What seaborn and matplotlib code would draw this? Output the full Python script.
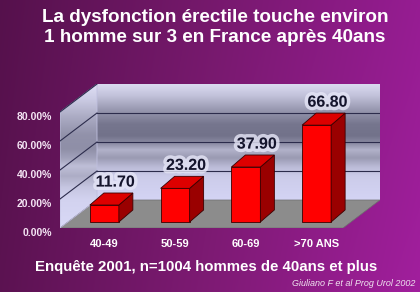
import numpy as np
import matplotlib
matplotlib.use("Agg")
import matplotlib.pyplot as plt
import seaborn as sns
from matplotlib.patches import Polygon
from matplotlib.colors import LinearSegmentedColormap, to_rgb
import matplotlib.patheffects as pe
from matplotlib.transforms import ScaledTranslation

# ---------------- data ----------------
categories = ["40-49", "50-59", "60-69", ">70 ANS"]
values = [11.70, 23.20, 37.90, 66.80]
tick_values = [0, 20, 40, 60, 80]
tick_labels = ["0.00%", "20.00%", "40.00%", "60.00%", "80.00%"]
title_lines = ["La dysfonction érectile touche environ",
               "1 homme sur 3 en France après 40ans"]
subtitle = "Enquête 2001, n=1004 hommes de 40ans et plus"
source = "Giuliano F et al Prog Urol 2002"

plt.rcParams['font.family'] = ['Liberation Sans', 'DejaVu Sans']

W, H = 420, 292
fig = plt.figure(figsize=(W / 100, H / 100), dpi=100)

# ---------------- background gradient ----------------
bg = fig.add_axes([0, 0, 1, 1])
bg.axis('off')
left_c = np.array(to_rgb('#5a1250'))
mid_c = np.array(to_rgb('#7c1a72'))
right_c = np.array(to_rgb('#9e1e9a'))
xs = np.linspace(0, 1, W)[None, :, None]
ys = np.linspace(0, 1, H)[:, None, None]
t = xs
col = np.where(t < 0.5, left_c + (mid_c - left_c) * (t / 0.5),
               mid_c + (right_c - mid_c) * ((t - 0.5) / 0.5))
col = col * (0.95 + 0.07 * ys)
bg.imshow(np.clip(col, 0, 1), aspect='auto', extent=[0, 1, 0, 1])
bg.set_xlim(0, 1); bg.set_ylim(0, 1)

# ---------------- 3D geometry (data units) ----------------
ymax = 80
fx, fy = -0.127, -4.14      # front plane offset from bar plane
bxo, byo = 0.396, 15.17     # back plane offset from bar plane
ddx, ddy = 0.198, 8.3       # bar depth
x_lo, x_hi = -0.5, 3.5

ax = fig.add_axes([60 / W, 1 - 228 / H, 320 / W, 144 / H])
ax.patch.set_alpha(0)

sns.barplot(x=categories, y=values, ax=ax, color='#ff0000', saturation=1,
            width=0.41, edgecolor='#3a0000', linewidth=0.6, errorbar=None)
bars = list(ax.patches)

# wall gradient
stops = [(0.0, '#dcdcf2'), (0.1, '#c4c4dc'), (0.22, '#9a9ab2'), (0.35, '#76768e'),
         (0.45, '#72728a'), (0.52, '#8e8ea6'), (0.57, '#b2b2ca'), (0.64, '#9a9ab2'),
         (0.72, '#bcbcd8'), (0.8, '#ccccea'), (1.0, '#d4d4f4')]
cmap = LinearSegmentedColormap.from_list('wall', stops)
grad = cmap(np.linspace(0, 1, 256))[:, None, :3]

# back wall
bw = [x_lo + bxo, x_hi + bxo, byo, ymax + byo]
ax.imshow(grad, extent=bw, aspect='auto', zorder=0, interpolation='bilinear')

# left wall
lw_verts = [(x_lo + fx, fy), (x_lo + fx, ymax + fy), (x_lo + bxo, ymax + byo), (x_lo + bxo, byo)]
lw_poly = Polygon(lw_verts, closed=True, transform=ax.transData)
grad_l = grad * 0.75 + 0.25 * np.array([0.9, 0.9, 1.0])
im = ax.imshow(grad_l, extent=[x_lo + fx, x_lo + bxo, fy, ymax + byo],
               aspect='auto', zorder=0, interpolation='bilinear')
im.set_clip_path(lw_poly)
ax.add_patch(Polygon(lw_verts, closed=True, facecolor='none', edgecolor='#c0c0e0',
                     linewidth=0.6, zorder=0.6))

# floor
floor = [(x_lo + fx, fy), (x_hi + fx, fy), (x_hi + bxo, byo), (x_lo + bxo, byo)]
ax.add_patch(Polygon(floor, closed=True, facecolor='#8c8c8c', edgecolor='#6e6e6e',
                     linewidth=0.5, zorder=0.5))

# gridlines
for v in tick_values[1:-1]:
    ax.plot([x_lo + bxo, x_hi + bxo], [v + byo, v + byo], color='#2c2c4c', lw=0.8, zorder=1)
for v in tick_values[1:]:
    ax.plot([x_lo + fx, x_lo + bxo], [v + fy, v + byo], color='#2c2c4c', lw=0.8, zorder=1)

# 3D bars
for b in bars:
    x0 = b.get_x(); w = b.get_width(); h = b.get_height()
    b.set_zorder(3)
    top = [(x0, h), (x0 + w, h), (x0 + w + ddx, h + ddy), (x0 + ddx, h + ddy)]
    side = [(x0 + w, 0), (x0 + w + ddx, ddy), (x0 + w + ddx, h + ddy), (x0 + w, h)]
    ax.add_patch(Polygon(side, closed=True, facecolor='#9a0000', edgecolor='#3a0000',
                         linewidth=0.6, zorder=3))
    ax.add_patch(Polygon(top, closed=True, facecolor='#dd0000', edgecolor='#3a0000',
                         linewidth=0.6, zorder=3))

# value labels
for i, v in enumerate(values):
    ax.annotate(f"{v:.2f}", xy=(i, v), xytext=(11, 23), textcoords='offset pixels',
                ha='center', va='center', fontsize=11.5, fontweight='bold',
                color='#14142c', zorder=6,
                path_effects=[pe.withStroke(linewidth=5, foreground=(0.9, 0.9, 0.97, 0.8))])

ax.set_xlim(x_lo + fx, x_hi + bxo)
ax.set_ylim(fy, ymax + byo)

ax.set_yticks([v + fy for v in tick_values])
ax.set_yticklabels(tick_labels)
ax.tick_params(axis='y', length=0, pad=6, labelsize=7.5, labelcolor='#f4e4f4')
ax.tick_params(axis='x', length=0, pad=8, labelsize=8, labelcolor='white')
for lab in ax.get_yticklabels():
    lab.set_fontweight('bold')
    lab.set_transform(lab.get_transform() + ScaledTranslation(0, -0.04, fig.dpi_scale_trans))
for lab in ax.get_xticklabels():
    lab.set_fontweight('bold')
ax.set_xlabel(''); ax.set_ylabel('')
for s in ax.spines.values():
    s.set_visible(False)

# texts
fig.text(215 / W, 1 - 17 / H, title_lines[0], ha='center', va='center',
         fontsize=13.6, fontweight='bold', color='white')
fig.text(215 / W, 1 - 37 / H, title_lines[1], ha='center', va='center',
         fontsize=13.6, fontweight='bold', color='white')
fig.text(206 / W, 1 - 267 / H, subtitle, ha='center', va='center',
         fontsize=10.8, fontweight='bold', color='white')
fig.text(415 / W, 1 - 283 / H, source, ha='right', va='center',
         fontsize=6.5, style='italic', color='#f0e4f0')

fig.savefig('out.png', dpi=100)
